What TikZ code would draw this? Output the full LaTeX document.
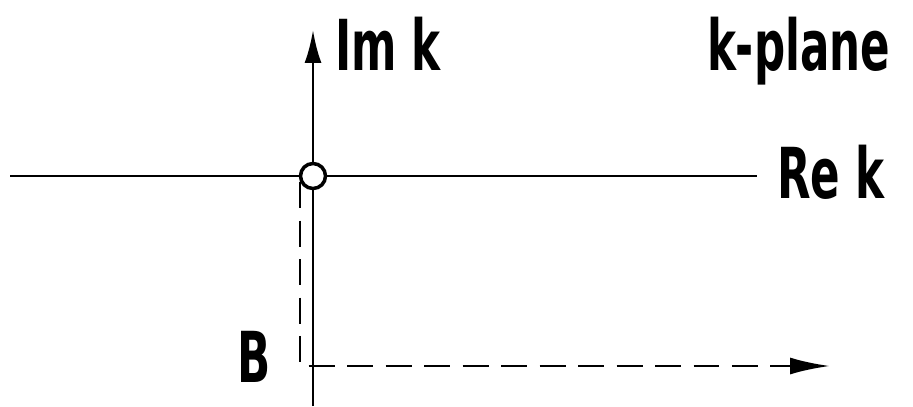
\documentclass[tikz,border=0pt]{standalone}
\usepackage{fontspec}
\setmainfont{DejaVu Sans}[FakeStretch=0.62]
\usetikzlibrary{arrows.meta, positioning, calc}

\begin{document}
\begin{tikzpicture}[
    x=0.02cm, y=-0.02cm,
    axis/.style={line width=1.6pt, color=black},
    origin/.style={circle, draw=black, fill=white, line width=2pt,
                   minimum size=0.5cm, inner sep=0pt},
    lbl/.style={font=\fontsize{40}{40}\selectfont\bfseries,
                inner sep=0pt, outer sep=0pt},
    contour/.style={line width=1.6pt, dash pattern=on 0.52cm off 0.25cm,
                    -{Latex[length=0.8cm,width=0.34cm]}},
]
\useasboundingbox (0,0) rectangle (913,406);

% ==========================================================
% Axes of the k-plane
% ==========================================================
\coordinate (west)  at (10,176);
\coordinate (imtop) at (313,30);
\coordinate (imbot) at (313,406);

\node[lbl, anchor=base west] (imk)   at (335,70)  {Im k};
\node[lbl, anchor=base west] (plane) at (707,70)  {k-plane};
\node[lbl, anchor=base west] (rek)   at (777,198) {Re k};

\draw[axis, shorten >=0.4cm] (west) -- (rek.west |- west);
\draw[axis, -{Latex[length=0.66cm,width=0.34cm]}] (imbot) -- (imtop);

% branch point at the origin
\node[origin] (o) at (313,176) {};

% ==========================================================
% Dashed contour B
% ==========================================================
\node[lbl, anchor=base east] (b) at (271,382) {B};
\coordinate (tip) at (830,366);
\draw[contour] (o.205) |- (tip);

\end{tikzpicture}
\end{document}
